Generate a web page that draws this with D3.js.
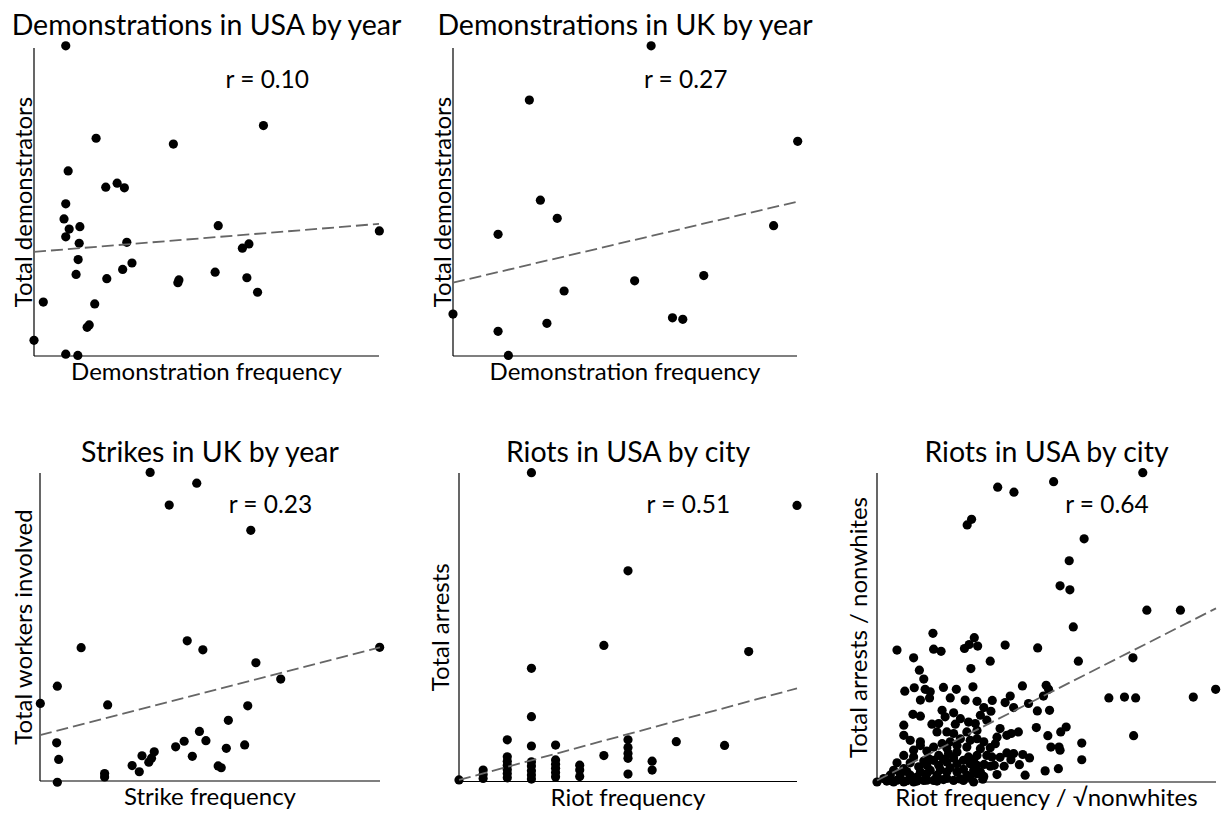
<!DOCTYPE html>
<html><head><meta charset="utf-8">
<script src="https://cdn.jsdelivr.net/npm/d3@7"></script>
<style>
body{margin:0;background:#fff}
text{font-family:Lato,"Open Sans",sans-serif;fill:#000}
</style>
</head><body>
<svg id="chart" width="1226" height="817"></svg>
<script>
// ---------- DATA (relative units, 0-100) ----------
const titles = ["Demonstrations in USA by year","Demonstrations in UK by year","Strikes in UK by year","Riots in USA by city","Riots in USA by city"];
const xLabels = ["Demonstration frequency","Demonstration frequency","Strike frequency","Riot frequency","Riot frequency / \u221Anonwhites"];
const yLabels = ["Total demonstrators","Total demonstrators","Total workers involved","Total arrests","Total arrests / nonwhites"];
const rValues = ["0.10","0.27","0.23","0.51","0.64"];

const usaDemoPoints = [[9.2,100.7],[66.5,74.8],[18.0,70.7],[40.4,68.8],[9.9,60.1],[20.8,54.8],[24.1,56.1],[26.2,54.6],[9.2,49.4],[8.7,44.5],[10.2,41.2],[13.3,42.0],[9.2,38.7],[13.1,36.6],[53.4,42.3],[100.1,40.6],[26.9,36.9],[62.3,36.4],[60.4,35.0],[12.8,31.3],[28.4,30.2],[25.7,28.1],[12.2,26.5],[21.1,25.1],[52.5,27.2],[42.0,24.7],[41.7,23.8],[61.7,25.4],[64.8,20.7],[2.7,17.5],[17.6,16.9],[15.4,9.3],[16.0,10.1],[0,5.1],[9.2,0.6],[12.7,0.2]];
const usaDemoFit = [[0,33.8],[100,42.9]];

const ukDemoPoints = [[57.6,100.7],[22.2,83.1],[100.2,69.7],[25.4,50.6],[30.3,44.7],[13.1,39.5],[93.2,42.3],[72.9,26.1],[52.8,24.4],[32.3,21.1],[0,13.6],[63.8,12.4],[66.8,11.9],[27.3,10.6],[13.1,8.0],[16.1,0.2]];
const ukDemoFit = [[0,23.8],[100,50.1]];

const ukStrikePoints = [[32.4,100.2],[46.1,96.7],[38.0,89.6],[62.0,81.4],[12.1,43.3],[43.3,45.5],[47.9,42.6],[99.9,43.4],[63.5,38.4],[70.8,33.1],[5.1,30.8],[0.1,25.2],[19.9,24.7],[61.1,24.4],[55.4,19.7],[46.9,16.1],[4.9,12.4],[42.4,12.9],[48.8,13.1],[39.9,11.1],[60.2,11.7],[54.8,10.6],[33.6,9.5],[30.0,8.2],[44.8,8.0],[32.8,7.4],[32.0,6.1],[5.5,7.0],[27.1,5.0],[29.2,3.0],[52.4,4.9],[53.3,4.3],[19.0,2.4],[19.0,1.3],[5.1,-0.4]];
const ukStrikeFit = [[0,14.9],[100,43.4]];

// x = riot frequency (count), y = arrests (relative)
const usaRiotPoints = [[0,0.5],[1,1.0],[1,2.3],[1,3.7],[2,1.2],[2,2.6],[2,3.9],[2,5.3],[2,6.6],[2,8.0],[2,13.5],[3,0.8],[3,2.1],[3,3.5],[3,5.0],[3,6.4],[3,11.5],[3,21.0],[3,36.7],[3,100.1],[4,1.5],[4,2.9],[4,4.3],[4,5.6],[4,7.0],[4,11.8],[5,1.6],[5,3.7],[5,5.3],[6,8.4],[6,44.1],[7,2.4],[7,7.5],[7,9.1],[7,11.0],[7,13.5],[7,68.3],[8,3.7],[8,6.6],[9,12.9],[11,11.7],[12,42.1],[14,89.5]];
const usaRiotFit = [[0,0.5],[14,30.2]];

const usaRiotNormPoints = [
[16.5,48.1],[5.9,42.7],[16.7,43.0],[18.9,42.3],[10.8,40.2],[25.8,43.2],[27.2,44.5],[28.7,46.7],[29.7,44.0],[12.5,36.2],[27.7,36.7],[13.8,33.3],[8.2,29.4],[11.0,30.5],[14.2,30.0],[15.7,29.2],[19.6,30.6],[23.4,30.0],[28.3,30.8],[12.8,26.5],[15.5,27.2],[21.6,27.2],[26.0,26.5],[29.5,26.1],
[57.9,50.2],[37.8,44.3],[47.4,43.4],[33.4,39.1],[59.4,39.1],[42.9,31.1],[49.9,31.3],[50.6,30.0],[39.3,27.8],[49.1,27.8],[37.8,25.7],[44.7,25.4],
[40.3,24.1],[33.6,22.9],[47.3,23.0],[50.9,23.2],[32.4,20.0],[36.3,17.3],[38.3,15.1],[39.6,15.7],[41.7,16.2],[47.0,17.6],[50.4,15.0],[54.2,16.2],[55.8,17.8],[60.4,12.6],[34.9,12.4],[33.4,11.1],[51.3,11.3],[53.7,11.3],[54.0,10.3],[32.4,8.6],[33.9,8.1],[38.3,9.4],[40.3,9.2],[39.5,7.2],[43.0,8.9],[45.0,7.8],[31.6,5.7],[33.4,5.1],[34.6,5.4],[37.5,5.1],[42.0,5.6],[49.6,3.6],[53.5,4.3],[60.4,7.2],[43.7,2.2],[31.2,0.9],
[10.6,21.9],[12.8,21.3],[19.2,23.2],[20.1,21.1],[7.9,18.4],[16.2,18.7],[18.2,18.9],[23.1,18.7],[27.0,19.4],[29.0,18.9],[7.9,15.1],[12.8,13.0],[17.7,16.2],[20.6,16.2],[22.6,15.7],[26.5,16.2],[29.5,16.7],[10.8,10.3],[10.8,8.1],[16.7,11.3],[19.2,12.4],[21.6,13.0],[24.6,14.0],[27.5,13.5],[29.5,14.0],[15.2,7.6],[18.2,8.6],[21.1,9.2],[23.6,9.7],[27.0,8.1],[29.5,8.6],[4.9,3.8],[7.9,4.3],[12.3,4.9],[14.7,5.4],[18.2,5.4],[20.6,6.5],[23.6,5.9],[27.5,5.9],[29.5,5.4],[2.0,1.1],[3.9,0.5],[6.9,1.1],[9.8,2.2],[11.8,1.6],[14.7,2.7],[17.7,2.2],[20.6,3.2],[23.6,3.2],[26.5,2.2],[29.5,2.7],[0,0],[4.9,0],[7.9,0],[10.8,0],[13.8,0.5],[16.7,0.5],[19.6,0.8],[22.6,0.5],[25.5,0.5],[28.5,0],
[2.9,0.3],[5.9,0.6],[8.8,0.4],[11.8,0.3],[14.7,0.6],[17.7,0.3],[20.6,1.2],[24.5,1.0],[27.5,1.4],[3.9,2.2],[6.9,2.6],[8.8,3.4],[12.8,3.2],[15.7,3.8],[18.7,4.0],[21.6,4.6],[25.5,4.1],[28.5,3.7],[9.8,6.2],[13.8,6.8],[16.7,7.0],[19.6,7.4],[22.6,7.8],[25.5,7.0],[28.5,7.2],[30.5,10.8],[26.5,11.3],[23.6,11.8],[20.6,11.0],[14.7,10.0],[12.8,11.8],[31.5,13.0],[30.5,3.2],[31.5,1.8],[35.4,2.4],[36.3,8.0],[35.4,14.5],[24.6,20.5],[22.6,22.4],[30.5,21.6],[31.5,24.1],[34.0,26.4],[9.8,13.5],[7.9,8.6],[5.9,6.2],
[68.4,27.2],[73.0,27.5],[76.3,27.2],[93.3,27.5],[99.9,30.0],[75.7,15.0],[75.5,40.2],[78.4,100.1],[79.6,55.6],[89.5,55.6],[35.6,95.4],[40.4,93.8],[52.1,97.2],[27.9,85.0],[26.6,83.2],[61.1,78.7],[56.7,71.6],[54.0,63.5],[56.9,62.2]
];
const usaRiotNormFit = [[0,0.5],[100,56.2]];

// ---------- LAYOUT ----------
const boxes = [
  {l:34, r:379, t:48, b:356, yl:32, tb:35},
  {l:453, r:797, t:48, b:356, yl:450.5, tb:35},
  {l:40, r:380, t:473, b:781, yl:32, tb:462},
  {l:459, r:797, t:473, b:781.5, yl:448.5, tb:462},
  {l:877, r:1216, t:473, b:782, yl:866.5, tb:462}
];
const pointSets = [usaDemoPoints, ukDemoPoints, ukStrikePoints, usaRiotPoints, usaRiotNormPoints];
const fits = [usaDemoFit, ukDemoFit, ukStrikeFit, usaRiotFit, usaRiotNormFit];
const xDomains = [[0,100],[0,100],[0,100],[0,14],[0,100]];
const yDomain = [0,100];

const svg = d3.select("#chart");

boxes.forEach((bx, i) => {
  const x = d3.scaleLinear().domain(xDomains[i]).range([bx.l, bx.r]);
  const y = d3.scaleLinear().domain(yDomain).range([bx.b, bx.t]);
  const g = svg.append("g");

  // spines (left and bottom only)
  g.append("line").attr("x1", bx.l).attr("x2", bx.l).attr("y1", bx.t).attr("y2", bx.b)
    .attr("stroke", "#000").attr("stroke-width", 1.2);
  g.append("line").attr("x1", bx.l).attr("x2", bx.r).attr("y1", bx.b).attr("y2", bx.b)
    .attr("stroke", "#000").attr("stroke-width", 1.2);

  // points
  g.selectAll("circle").data(pointSets[i]).join("circle")
    .attr("cx", d => x(d[0])).attr("cy", d => y(d[1])).attr("r", 4.6).attr("fill", "#000");

  // regression line
  const line = d3.line().x(d => x(d[0])).y(d => y(d[1]));
  g.append("path").datum(fits[i]).attr("d", line)
    .attr("fill", "none").attr("stroke", "#666").attr("stroke-width", 1.8)
    .attr("stroke-dasharray", "12,5");

  const cx = (bx.l + bx.r) / 2, cy = (bx.t + bx.b) / 2;
  // title
  g.append("text").attr("x", cx).attr("y", bx.tb).attr("text-anchor", "middle")
    .style("font-size", "28.5px").text(titles[i]);
  // x label
  g.append("text").attr("x", cx).attr("y", bx.b + 24).attr("text-anchor", "middle")
    .style("font-size", "24px").text(xLabels[i]);
  // y label
  g.append("text").attr("transform", `translate(${bx.yl},${cy}) rotate(-90)`)
    .attr("text-anchor", "middle").style("font-size", "24px").text(yLabels[i]);
  // r annotation
  g.append("text").attr("x", bx.l + 0.555 * (bx.r - bx.l)).attr("y", bx.b - 0.87 * (bx.b - bx.t))
    .style("font-size", "24.5px").text("r = " + rValues[i]);
});
</script>
</body></html>
